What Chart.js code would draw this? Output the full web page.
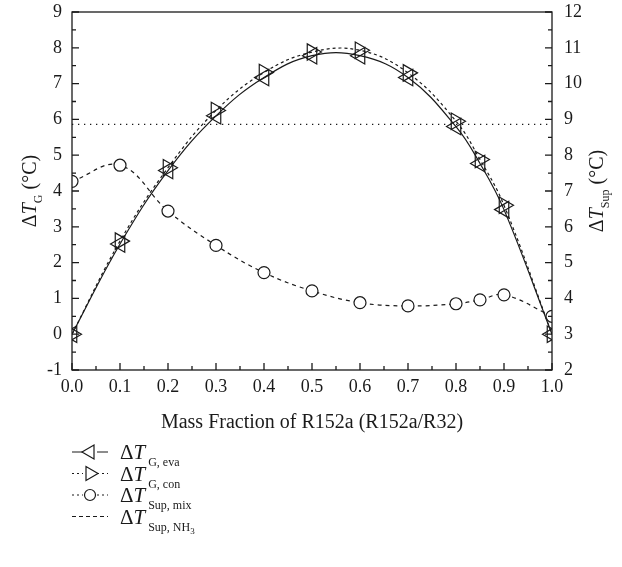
<!DOCTYPE html>
<html>
<head>
<meta charset="utf-8">
<script src="https://cdn.jsdelivr.net/npm/chart.js@4/dist/chart.umd.min.js"></script>
<style>
  html, body { margin: 0; padding: 0; background: #ffffff; }
  #c { display: block; }
</style>
</head>
<body>
<canvas id="c" width="622" height="567"></canvas>
<script>
// Mass fraction of R152a in the R152a/R32 blend
const massFraction = [0, 0.1, 0.2, 0.3, 0.4, 0.5, 0.6, 0.7, 0.8, 0.85, 0.9, 1.0];
// Temperature glide in the evaporator and condenser (left axis, °C)
const glideEva = [0, 2.52, 4.57, 6.10, 7.17, 7.78, 7.78, 7.17, 5.80, 4.77, 3.48, 0];
const glideCon = [0, 2.60, 4.65, 6.25, 7.31, 7.88, 7.93, 7.30, 5.95, 4.88, 3.60, 0];
// Suction superheat of the mixture and of NH3 (right axis, °C)
const superheatMix = [7.27, 7.72, 6.44, 5.48, 4.72, 4.21, 3.88, 3.79, 3.85, 3.96, 4.10, 3.50];
const superheatNH3 = 8.86;
// Axis ranges and tick steps
const xRange = [0, 1], xStep = 0.1, xMinorStep = 0.05;
const yLeftRange = [-1, 9], yRightRange = [2, 12], yStep = 1, yMinorStep = 0.5;

const INK = '#1a1a1a';
const SERIF = '"Liberation Serif", "DejaVu Serif", serif';
const TICK_FONT = { family: SERIF, size: 18 };

const pts = (ys) => massFraction.map((x, i) => ({ x, y: ys[i] }));

// Draws a run of text pieces (supports italic and subscript offsets)
function richWidth(ctx, parts) {
  let w = 0;
  for (const p of parts) {
    ctx.font = (p.italic ? 'italic ' : '') + p.size + 'px ' + SERIF;
    w += ctx.measureText(p.t).width;
  }
  return w;
}
function drawRich(ctx, x, y, parts) {
  ctx.save();
  ctx.fillStyle = INK;
  ctx.textBaseline = 'alphabetic';
  ctx.textAlign = 'left';
  for (const p of parts) {
    ctx.font = (p.italic ? 'italic ' : '') + p.size + 'px ' + SERIF;
    ctx.fillText(p.t, x, y + (p.dy || 0));
    x += ctx.measureText(p.t).width;
  }
  ctx.restore();
}
function drawRichRotated(ctx, cx, cy, parts) {
  ctx.save();
  ctx.translate(cx, cy);
  ctx.rotate(-Math.PI / 2);
  const w = richWidth(ctx, parts);
  drawRich(ctx, -w / 2, 7, parts);
  ctx.restore();
}

// Keeps the plot frame at fixed offsets regardless of tick-label overhang
const fixVertical = (width) => (s) => { s.width = width; s.paddingTop = 8; s.paddingBottom = 8; };

// Frame, inward ticks, axis titles and the legend block
const framePlugin = {
  id: 'frame',
  afterDraw(chart) {
    const { ctx, chartArea: a, scales } = chart;
    const xs = scales.x, yl = scales.y, yr = scales.y2;
    ctx.save();
    ctx.strokeStyle = INK;
    ctx.lineWidth = 1.3;
    ctx.strokeRect(a.left, a.top, a.right - a.left, a.bottom - a.top);

    ctx.beginPath();
    for (let v = xRange[0]; v <= xRange[1] + 1e-9; v += xMinorStep) {
      const px = xs.getPixelForValue(v);
      const major = Math.abs(v / xStep - Math.round(v / xStep)) < 1e-6;
      ctx.moveTo(px, a.bottom);
      ctx.lineTo(px, a.bottom - (major ? 7 : 4));
    }
    for (let v = yLeftRange[0]; v <= yLeftRange[1] + 1e-9; v += yMinorStep) {
      const py = yl.getPixelForValue(v);
      const major = Math.abs(v - Math.round(v)) < 1e-6;
      ctx.moveTo(a.left, py);
      ctx.lineTo(a.left + (major ? 7 : 4), py);
    }
    for (let v = yRightRange[0]; v <= yRightRange[1] + 1e-9; v += yMinorStep) {
      const py = yr.getPixelForValue(v);
      const major = Math.abs(v - Math.round(v)) < 1e-6;
      ctx.moveTo(a.right, py);
      ctx.lineTo(a.right - (major ? 7 : 4), py);
    }
    ctx.stroke();
    ctx.restore();

    // Axis titles
    const midY = (a.top + a.bottom) / 2;
    drawRichRotated(ctx, 29, midY, [
      { t: 'Δ', size: 20 }, { t: 'T', size: 20, italic: true },
      { t: 'G', size: 12, dy: 6 }, { t: ' (°C)', size: 20 }
    ]);
    drawRichRotated(ctx, 596, midY, [
      { t: 'Δ', size: 20 }, { t: 'T', size: 20, italic: true },
      { t: 'Sup', size: 12, dy: 6 }, { t: ' (°C)', size: 20 }
    ]);
    const xTitle = 'Mass Fraction of R152a (R152a/R32)';
    ctx.save();
    ctx.font = '20px ' + SERIF;
    ctx.fillStyle = INK;
    ctx.textAlign = 'center';
    ctx.textBaseline = 'middle';
    ctx.fillText(xTitle, (a.left + a.right) / 2, 423);
    ctx.restore();

    // Legend
    const rows = [
      { sub: 'G, eva', dash: [], style: 'triangle', rot: -90, r: 8, fill: 'rgba(0,0,0,0)' },
      { sub: 'G, con', dash: [2, 3], style: 'triangle', rot: 90, r: 8, fill: 'rgba(0,0,0,0)' },
      { sub: 'Sup, mix', dash: [2, 3], style: 'circle', rot: 0, r: 5.5, fill: '#ffffff' },
      { sub: 'Sup, NH', sub3: '3', dash: [4, 3], style: null }
    ];
    const lx0 = 72, lx1 = 108, tx = 120;
    rows.forEach((row, i) => {
      const cy = 452 + i * 21.5;
      ctx.save();
      ctx.strokeStyle = INK;
      ctx.lineWidth = 1.2;
      ctx.setLineDash(row.dash);
      ctx.beginPath();
      if (row.style) {
        ctx.moveTo(lx0, cy); ctx.lineTo((lx0 + lx1) / 2 - 7, cy);
        ctx.moveTo((lx0 + lx1) / 2 + 7, cy); ctx.lineTo(lx1, cy);
      } else {
        ctx.moveTo(lx0, cy); ctx.lineTo(lx1, cy);
      }
      ctx.stroke();
      ctx.setLineDash([]);
      if (row.style) {
        ctx.fillStyle = row.fill;
        Chart.helpers.drawPoint(ctx, { pointStyle: row.style, radius: row.r, rotation: row.rot, borderWidth: 1.2 }, (lx0 + lx1) / 2, cy);
      }
      ctx.restore();
      const parts = [
        { t: 'Δ', size: 21 }, { t: 'T', size: 21, italic: true },
        { t: ' ' + row.sub, size: 12, dy: 7 }
      ];
      if (row.sub3) parts.push({ t: row.sub3, size: 9, dy: 10 });
      drawRich(ctx, tx, cy + 7, parts);
    });
  }
};

new Chart(document.getElementById('c'), {
  type: 'line',
  data: {
    datasets: [
      {
        label: 'ΔT G, eva', data: pts(glideEva), yAxisID: 'y',
        borderColor: INK, borderWidth: 1.2, tension: 0.4, fill: false,
        pointStyle: 'triangle', pointRotation: -90, pointRadius: 9.5,
        pointBackgroundColor: 'rgba(0,0,0,0)', pointBorderColor: INK, pointBorderWidth: 1.2,
        clip: 0, order: 2
      },
      {
        label: 'ΔT G, con', data: pts(glideCon), yAxisID: 'y',
        borderColor: INK, borderWidth: 1.2, borderDash: [3, 3], tension: 0.4, fill: false,
        pointStyle: 'triangle', pointRotation: 90, pointRadius: 9.5,
        pointBackgroundColor: 'rgba(0,0,0,0)', pointBorderColor: INK, pointBorderWidth: 1.2,
        clip: 0, order: 1
      },
      {
        label: 'ΔT Sup, mix', data: pts(superheatMix), yAxisID: 'y2',
        borderColor: INK, borderWidth: 1.2, borderDash: [4, 4], tension: 0.4, fill: false,
        pointStyle: 'circle', pointRadius: 6,
        pointBackgroundColor: '#ffffff', pointBorderColor: INK, pointBorderWidth: 1.2,
        clip: 0, order: 0
      },
      {
        label: 'ΔT Sup, NH3', data: [{ x: xRange[0], y: superheatNH3 }, { x: xRange[1], y: superheatNH3 }],
        yAxisID: 'y2', borderColor: INK, borderWidth: 1.2, borderDash: [1.3, 4.7],
        pointRadius: 0, fill: false, clip: 0, order: 3
      }
    ]
  },
  options: {
    responsive: false,
    animation: false,
    devicePixelRatio: 1,
    layout: { padding: { top: 12, left: 0, right: 0, bottom: 0 } },
    plugins: { legend: { display: false }, tooltip: { enabled: false } },
    scales: {
      x: {
        type: 'linear', position: 'bottom', min: xRange[0], max: xRange[1],
        grid: { display: false, drawTicks: false }, border: { display: false },
        ticks: { stepSize: xStep, font: TICK_FONT, color: INK, padding: 6, maxRotation: 0, autoSkip: false,
                 callback: (v) => Number(v).toFixed(1) },
        afterFit: (s) => { s.height = 197; }
      },
      y: {
        type: 'linear', position: 'left', min: yLeftRange[0], max: yLeftRange[1],
        grid: { display: false, drawTicks: false }, border: { display: false },
        ticks: { stepSize: yStep, font: TICK_FONT, color: INK, padding: 10,
                 callback: (v) => String(v) },
        afterFit: fixVertical(72)
      },
      y2: {
        type: 'linear', position: 'right', min: yRightRange[0], max: yRightRange[1],
        grid: { display: false, drawTicks: false }, border: { display: false },
        ticks: { stepSize: yStep, font: TICK_FONT, color: INK, padding: 12,
                 callback: (v) => String(v) },
        afterFit: fixVertical(70)
      }
    }
  },
  plugins: [framePlugin]
});
</script>
</body>
</html>
